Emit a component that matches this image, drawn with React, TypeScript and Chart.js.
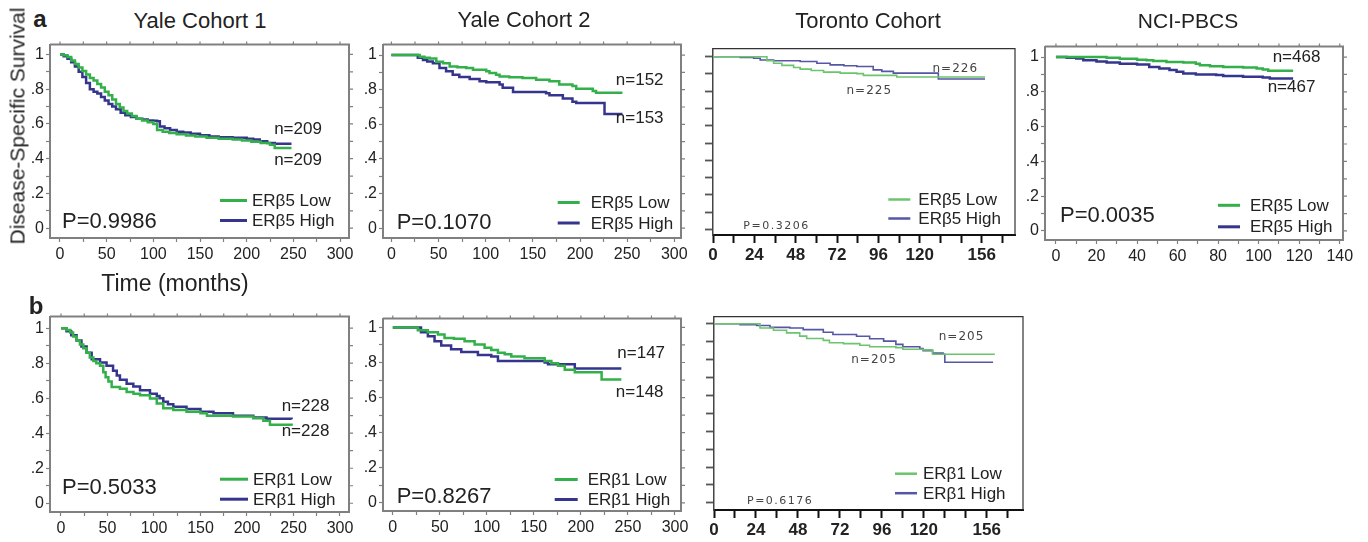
import React, { useEffect, useRef } from 'react';
import { Chart, registerables } from 'chart.js';

Chart.register(...registerables);

const FONT = '"Liberation Sans", Arial, Helvetica, sans-serif';
const GREEN = '#33b04a';
const BLUE = '#35358e';
const GREEN_T = '#6cc46c';
const BLUE_T = '#5656a6';

// ---------- axis ticks ----------
const survTicks = [0, 0.1, 0.2, 0.3, 0.4, 0.5, 0.6, 0.7, 0.8, 0.9, 1];
const survLabelValues = [0, 0.2, 0.4, 0.6, 0.8, 1];
const survLabelTexts = ['0', '.2', '.4', '.6', '.8', '1'];
const yaleXTicks = [0, 25, 50, 75, 100, 125, 150, 175, 200, 225, 250, 275, 300];
const yaleXLabels = [0, 50, 100, 150, 200, 250, 300];
const nciXTicks = [0, 10, 20, 30, 40, 50, 60, 70, 80, 90, 100, 110, 120, 130, 140];
const nciXLabels = [0, 20, 40, 60, 80, 100, 120, 140];
const torXTicks = [0, 12, 24, 36, 48, 60, 72, 84, 96, 108, 120, 132, 144, 156, 168];
const torXLabels = [0, 24, 48, 72, 96, 120, 156];

// ---------- Yale Cohort 1 (ERβ5) ----------
const yale1LowT = [0, 4, 8, 12, 16, 20, 24, 28, 32, 36, 40, 44, 48, 52, 56, 60, 64, 68, 72, 77, 82, 88, 94, 100, 104, 110, 117, 125, 135, 145, 157, 170, 185, 195, 205, 215, 225, 230, 248];
const yale1LowS = [1, 0.995, 0.985, 0.965, 0.945, 0.925, 0.905, 0.885, 0.865, 0.85, 0.83, 0.81, 0.785, 0.765, 0.74, 0.715, 0.695, 0.675, 0.66, 0.645, 0.63, 0.62, 0.61, 0.6, 0.565, 0.555, 0.548, 0.54, 0.533, 0.527, 0.52, 0.515, 0.51, 0.505, 0.497, 0.49, 0.48, 0.462, 0.462];
const yale1HighT = [0, 4, 8, 12, 16, 20, 24, 28, 32, 36, 40, 44, 48, 52, 56, 60, 65, 70, 76, 82, 88, 94, 100, 104, 107, 112, 118, 125, 132, 140, 150, 160, 170, 185, 200, 207, 214, 222, 230, 248];
const yale1HighS = [1, 0.99, 0.975, 0.955, 0.93, 0.9, 0.87, 0.835, 0.8, 0.785, 0.775, 0.755, 0.735, 0.715, 0.7, 0.685, 0.665, 0.65, 0.64, 0.63, 0.625, 0.62, 0.618, 0.615, 0.585, 0.575, 0.565, 0.555, 0.55, 0.543, 0.535, 0.528, 0.523, 0.52, 0.515, 0.51, 0.5, 0.49, 0.486, 0.486];

// ---------- Yale Cohort 2 (ERβ5) ----------
const yale2LowT = [0, 26.5, 30, 35, 40.6, 47.6, 54.7, 61.8, 70, 79.4, 86.5, 100.6, 104, 111, 114.7, 125, 139, 153.5, 167.6, 178, 192, 196, 213.5, 217, 245];
const yale2LowS = [1, 1, 0.99, 0.985, 0.98, 0.962, 0.953, 0.934, 0.93, 0.925, 0.915, 0.906, 0.896, 0.887, 0.877, 0.872, 0.868, 0.858, 0.849, 0.83, 0.821, 0.806, 0.792, 0.783, 0.783];
const yale2HighT = [0, 24.7, 28, 33.5, 38, 44, 51, 58, 65, 72, 83, 93.5, 100.6, 114.7, 118, 129, 153.5, 164, 167.6, 181.8, 192, 196, 224, 226, 245];
const yale2HighS = [1, 1, 0.985, 0.972, 0.963, 0.953, 0.925, 0.906, 0.887, 0.874, 0.862, 0.849, 0.843, 0.83, 0.811, 0.787, 0.787, 0.779, 0.768, 0.749, 0.73, 0.723, 0.723, 0.66, 0.66];

// ---------- Toronto Cohort (ERβ5) ----------
const tor1LowT = [0, 25.5, 31.3, 35.2, 40, 46.8, 50.6, 57, 64.2, 73.8, 83.5, 87.3, 106.7, 157.9];
const tor1LowS = [1, 1, 0.977, 0.962, 0.95, 0.938, 0.928, 0.92, 0.911, 0.905, 0.902, 0.892, 0.883, 0.883];
const tor1HighT = [0, 12, 15.8, 23.6, 27.4, 35.2, 50.6, 60.3, 68, 76, 83.5, 93, 98, 104.7, 130.8, 157.9];
const tor1HighS = [1, 1, 0.996, 0.991, 0.981, 0.977, 0.972, 0.962, 0.953, 0.948, 0.943, 0.924, 0.915, 0.905, 0.871, 0.871];

// ---------- NCI-PBCS (ERβ5) ----------
const nciLowT = [0, 23, 25, 31.5, 40, 44.7, 48, 54.5, 62.8, 69, 71, 76, 82.5, 92.3, 99, 102, 104.7, 117];
const nciLowS = [1, 1, 0.996, 0.99, 0.985, 0.981, 0.977, 0.972, 0.968, 0.962, 0.953, 0.947, 0.943, 0.94, 0.934, 0.928, 0.921, 0.921];
const nciHighT = [0, 5.3, 10, 13.5, 20, 25, 31.5, 40, 46, 51, 56, 59.5, 62.8, 69, 79, 82.5, 92.3, 102, 105.5, 117];
const nciHighS = [1, 0.996, 0.992, 0.981, 0.975, 0.968, 0.962, 0.957, 0.943, 0.934, 0.925, 0.915, 0.906, 0.9, 0.896, 0.891, 0.887, 0.883, 0.877, 0.877];

// ---------- Yale Cohort 1 (ERβ1) ----------
const yale1bLowT = [0, 6, 10, 13, 17, 20.4, 24, 27.6, 31, 34.8, 38, 42, 45.5, 48, 51, 54.5, 63.4, 70.6, 78, 85, 95.7, 103, 110, 120.8, 135, 150, 157, 185, 206.8, 217.6, 224.7, 248];
const yale1bLowS = [1, 0.99, 0.975, 0.953, 0.93, 0.907, 0.885, 0.86, 0.832, 0.813, 0.8, 0.785, 0.748, 0.72, 0.695, 0.664, 0.654, 0.636, 0.625, 0.617, 0.598, 0.57, 0.542, 0.533, 0.523, 0.514, 0.5, 0.495, 0.486, 0.471, 0.449, 0.443];
const yale1bHighT = [0, 6, 11, 16.8, 22, 27.6, 33, 42, 49, 56, 60, 63.4, 70.6, 77.8, 85, 95.7, 103, 106, 110, 115, 120.8, 135, 150, 164, 185, 206.8, 221, 248];
const yale1bHighS = [1, 0.983, 0.96, 0.93, 0.895, 0.86, 0.822, 0.804, 0.785, 0.757, 0.73, 0.706, 0.682, 0.667, 0.645, 0.626, 0.613, 0.6, 0.579, 0.565, 0.551, 0.538, 0.523, 0.514, 0.5, 0.49, 0.482, 0.48];

// ---------- Yale Cohort 2 (ERβ1) ----------
const yale2bLowT = [0, 23, 26.6, 37.3, 48, 55, 65, 76.3, 87, 97.6, 104.7, 111.8, 119, 126, 140, 161.5, 168.6, 175.7, 182.8, 193.5, 222, 243];
const yale2bLowS = [1, 1, 0.983, 0.972, 0.959, 0.94, 0.935, 0.921, 0.903, 0.884, 0.871, 0.856, 0.847, 0.834, 0.824, 0.809, 0.796, 0.781, 0.759, 0.744, 0.703, 0.703];
const yale2bHighT = [0, 26.6, 30, 37.3, 44.4, 51.5, 62, 72.8, 90.5, 104.7, 111.8, 140, 161.5, 165, 193.5, 243];
const yale2bHighS = [1, 1, 0.972, 0.95, 0.921, 0.897, 0.875, 0.86, 0.843, 0.834, 0.809, 0.809, 0.8, 0.79, 0.766, 0.766];

// ---------- Toronto Cohort (ERβ1) ----------
const tor2LowT = [0, 24.4, 26.3, 34, 41.5, 49, 53, 62.5, 66, 74, 83.4, 89, 104, 108, 119.6, 125, 160.6];
const tor2LowS = [1, 1, 0.976, 0.964, 0.949, 0.931, 0.918, 0.907, 0.894, 0.889, 0.88, 0.872, 0.867, 0.858, 0.854, 0.83, 0.83];
const tor2HighT = [0, 14.9, 24.4, 32, 43.4, 51, 62.5, 68, 81.5, 89, 97, 104, 108, 117.7, 119.6, 125, 131, 132, 159.6];
const tor2HighS = [1, 0.995, 0.99, 0.98, 0.976, 0.967, 0.953, 0.94, 0.93, 0.916, 0.903, 0.885, 0.872, 0.861, 0.849, 0.836, 0.83, 0.785, 0.785];

// ---------- layout ----------
const Y_AXIS_W = 45;
const PAD_T = 8;
const PAD_R = 18;
const X_AXIS_H = 36;

type Series = { t: number[]; s: number[]; color: string; width: number };
type TextAt = { text: string; x: number; y: number };
type Panel = {
  key: string;
  style: 'yale' | 'toronto';
  frame: [number, number, number, number];
  xr: [number, number];
  yr: [number, number];
  xTicks: number[];
  xLabels: number[];
  series: Series[];
  nLabels: TextAt[];
  p: TextAt;
  marker: string;
  legend: { x1: number; x2: number; tx: number; yLow: number; yHigh: number };
};

const panels: Panel[] = [
  {
    key: 'a1', style: 'yale', frame: [50, 40.5, 349, 237.5], xr: [-10.7, 309.6], yr: [-0.0565, 1.0565],
    xTicks: yaleXTicks, xLabels: yaleXLabels,
    series: [
      { t: yale1LowT, s: yale1LowS, color: GREEN, width: 2.5 },
      { t: yale1HighT, s: yale1HighS, color: BLUE, width: 2.5 },
    ],
    nLabels: [{ text: 'n=209', x: 298, y: 128.5 }, { text: 'n=209', x: 298, y: 159.5 }],
    p: { text: 'P=0.9986', x: 62, y: 221 }, marker: 'ERβ5',
    legend: { x1: 220, x2: 247, tx: 252, yLow: 200, yHigh: 220 },
  },
  {
    key: 'a2', style: 'yale', frame: [383.3, 41, 681.7, 238.3], xr: [-8.9, 307.1], yr: [-0.0566, 1.0606],
    xTicks: yaleXTicks, xLabels: yaleXLabels,
    series: [
      { t: yale2LowT, s: yale2LowS, color: GREEN, width: 2.5 },
      { t: yale2HighT, s: yale2HighS, color: BLUE, width: 2.5 },
    ],
    nLabels: [{ text: 'n=152', x: 640, y: 80 }, { text: 'n=153', x: 640, y: 118.5 }],
    p: { text: 'P=0.1070', x: 397, y: 223 }, marker: 'ERβ5',
    legend: { x1: 558, x2: 580, tx: 591, yLow: 202.5, yHigh: 223 },
  },
  {
    key: 'a3', style: 'toronto', frame: [712.7, 45, 1015, 235], xr: [0, 175.3], yr: [-0.032, 1.047],
    xTicks: torXTicks, xLabels: torXLabels,
    series: [
      { t: tor1LowT, s: tor1LowS, color: GREEN_T, width: 1.6 },
      { t: tor1HighT, s: tor1HighS, color: BLUE_T, width: 1.6 },
    ],
    nLabels: [{ text: 'n=226', x: 955, y: 68.5 }, { text: 'n=225', x: 869, y: 91 }],
    p: { text: 'P=0.3206', x: 743, y: 226 }, marker: 'ERβ5',
    legend: { x1: 888, x2: 910, tx: 918, yLow: 199.5, yHigh: 218.5 },
  },
  {
    key: 'a4', style: 'yale', frame: [1045, 42.7, 1343.3, 239.3], xr: [-5.4, 141.6], yr: [-0.052, 1.06],
    xTicks: nciXTicks, xLabels: nciXLabels,
    series: [
      { t: nciLowT, s: nciLowS, color: GREEN, width: 2.5 },
      { t: nciHighT, s: nciHighS, color: BLUE, width: 2.5 },
    ],
    nLabels: [{ text: 'n=468', x: 1296.5, y: 57.5 }, { text: 'n=467', x: 1291.5, y: 87.5 }],
    p: { text: 'P=0.0035', x: 1060, y: 216 }, marker: 'ERβ5',
    legend: { x1: 1218, x2: 1240, tx: 1250, yLow: 205, yHigh: 226.5 },
  },
  {
    key: 'b1', style: 'yale', frame: [50, 313.3, 349, 512], xr: [-11.8, 309.7], yr: [-0.05, 1.066],
    xTicks: yaleXTicks, xLabels: yaleXLabels,
    series: [
      { t: yale1bLowT, s: yale1bLowS, color: GREEN, width: 2.5 },
      { t: yale1bHighT, s: yale1bHighS, color: BLUE, width: 2.5 },
    ],
    nLabels: [{ text: 'n=228', x: 305.5, y: 406.5 }, { text: 'n=228', x: 305.5, y: 432 }],
    p: { text: 'P=0.5033', x: 62, y: 488 }, marker: 'ERβ1',
    legend: { x1: 220, x2: 248, tx: 253, yLow: 479.5, yHigh: 499.5 },
  },
  {
    key: 'b2', style: 'yale', frame: [383.3, 315, 681.7, 511], xr: [-10.4, 306.4], yr: [-0.046, 1.05],
    xTicks: yaleXTicks, xLabels: yaleXLabels,
    series: [
      { t: yale2bLowT, s: yale2bLowS, color: GREEN, width: 2.5 },
      { t: yale2bHighT, s: yale2bHighS, color: BLUE, width: 2.5 },
    ],
    nLabels: [{ text: 'n=147', x: 641.5, y: 353.5 }, { text: 'n=148', x: 640, y: 392 }],
    p: { text: 'P=0.8267', x: 397, y: 497 }, marker: 'ERβ1',
    legend: { x1: 555, x2: 578, tx: 588, yLow: 479.5, yHigh: 499.5 },
  },
  {
    key: 'b3', style: 'toronto', frame: [714, 313.3, 1023.3, 510.7], xr: [0, 176.7], yr: [-0.04, 1.04],
    xTicks: torXTicks, xLabels: torXLabels,
    series: [
      { t: tor2LowT, s: tor2LowS, color: GREEN_T, width: 1.6 },
      { t: tor2HighT, s: tor2HighS, color: BLUE_T, width: 1.6 },
    ],
    nLabels: [{ text: 'n=205', x: 961.5, y: 337 }, { text: 'n=205', x: 874, y: 360 }],
    p: { text: 'P=0.6176', x: 747, y: 501 }, marker: 'ERβ1',
    legend: { x1: 895, x2: 917, tx: 923, yLow: 474, yHigh: 493.5 },
  },
];

function survLabel(v: number): string {
  const i = survLabelValues.findIndex((s) => Math.abs(s - v) < 1e-6);
  return i >= 0 ? survLabelTexts[i] : '';
}

function PanelChart({ p }: { p: Panel }) {
  const ref = useRef<HTMLCanvasElement | null>(null);
  const [l, t, r, b] = p.frame;
  const cLeft = l - Y_AXIS_W;
  const cTop = t - PAD_T;
  const cW = Math.round(r - l + Y_AXIS_W + PAD_R);
  const cH = Math.round(b - t + PAD_T + X_AXIS_H);

  useEffect(() => {
    const canvas = ref.current;
    if (!canvas) return;
    const tor = p.style === 'toronto';
    const frameColor = tor ? '#333' : '#808080';

    const annot = {
      id: 'annot-' + p.key,
      beforeDatasetsDraw(chart: any) {
        const { ctx, chartArea: a, scales } = chart;
        ctx.save();
        ctx.strokeStyle = frameColor;
        ctx.lineWidth = tor ? 1.2 : 2;
        ctx.beginPath();
        ctx.moveTo(a.left, a.top);
        ctx.lineTo(a.right, a.top);
        ctx.lineTo(a.right, a.bottom);
        ctx.stroke();
        if (!tor) {
          ctx.lineWidth = 1.2;
          ctx.beginPath();
          for (const v of p.xTicks) {
            const x = scales.x.getPixelForValue(v);
            ctx.moveTo(x, a.top);
            ctx.lineTo(x, a.top - 3);
          }
          for (const v of survTicks) {
            const y = scales.y.getPixelForValue(v);
            ctx.moveTo(a.right, y);
            ctx.lineTo(a.right + 4, y);
          }
          ctx.stroke();
        }
        ctx.restore();
      },
      afterDatasetsDraw(chart: any) {
        const ctx: CanvasRenderingContext2D = chart.ctx;
        const ox = cLeft;
        const oy = cTop;
        ctx.save();
        ctx.textBaseline = 'middle';
        // n labels
        ctx.textAlign = 'center';
        if (tor) {
          ctx.font = '12px "DejaVu Sans", sans-serif';
          (ctx as any).letterSpacing = '1px';
          ctx.fillStyle = '#444';
        } else {
          ctx.font = '17px ' + FONT;
          ctx.fillStyle = '#222';
        }
        for (const n of p.nLabels) ctx.fillText(n.text, n.x - ox, n.y - oy);
        // P value
        ctx.textAlign = 'left';
        if (tor) {
          ctx.font = '11px "DejaVu Sans", sans-serif';
          (ctx as any).letterSpacing = '1.5px';
          ctx.fillText(p.p.text, p.p.x - ox, p.p.y - oy);
          (ctx as any).letterSpacing = '0px';
        } else {
          ctx.font = '22px ' + FONT;
          ctx.fillText(p.p.text, p.p.x - ox, p.p.y - oy);
        }
        // legend
        const lg = p.legend;
        const rows = [
          { y: lg.yLow, color: p.series[0].color, text: p.marker + ' Low' },
          { y: lg.yHigh, color: p.series[1].color, text: p.marker + ' High' },
        ];
        ctx.font = '17px ' + FONT;
        for (const row of rows) {
          ctx.strokeStyle = row.color;
          ctx.lineWidth = tor ? 2.5 : 3;
          ctx.beginPath();
          ctx.moveTo(lg.x1 - ox, row.y - oy);
          ctx.lineTo(lg.x2 - ox, row.y - oy);
          ctx.stroke();
          ctx.fillStyle = '#222';
          ctx.fillText(row.text, lg.tx - ox, row.y - oy + 1);
        }
        ctx.restore();
      },
    };

    const chart = new Chart(canvas, {
      type: 'line',
      data: {
        datasets: p.series.map((s) => ({
          data: s.t.map((x, i) => ({ x, y: s.s[i] })),
          borderColor: s.color,
          borderWidth: s.width,
          stepped: true,
          pointRadius: 0,
          fill: false,
          tension: 0,
        })),
      },
      options: {
        animation: false,
        responsive: false,
        devicePixelRatio: 1,
        events: [],
        layout: { padding: { top: PAD_T, right: PAD_R, left: 0, bottom: 0 } },
        plugins: { legend: { display: false }, tooltip: { enabled: false }, title: { display: false } },
        scales: {
          x: {
            type: 'linear',
            min: p.xr[0],
            max: p.xr[1],
            afterBuildTicks: (s: any) => {
              s.ticks = p.xTicks.map((v) => ({ value: v }));
            },
            afterFit: (s: any) => {
              s.height = X_AXIS_H;
            },
            ticks: {
              autoSkip: false,
              maxRotation: 0,
              padding: tor ? 2 : 3,
              color: '#222',
              font: { family: FONT, size: tor ? 17 : 16, weight: tor ? 'bold' : 'normal' },
              callback: (v: any) => (p.xLabels.includes(Number(v)) ? String(v) : ''),
            },
            grid: {
              drawOnChartArea: false,
              drawTicks: true,
              tickLength: tor ? 8 : 4,
              tickColor: tor ? '#111' : '#808080',
              tickWidth: tor ? 2 : 1.2,
            },
            border: { display: true, color: tor ? '#111' : frameColor, width: 2 },
          },
          y: {
            type: 'linear',
            min: p.yr[0],
            max: p.yr[1],
            afterBuildTicks: (s: any) => {
              s.ticks = survTicks.map((v) => ({ value: v }));
            },
            afterFit: (s: any) => {
              s.width = Y_AXIS_W;
            },
            ticks: {
              autoSkip: false,
              padding: 2,
              color: '#222',
              font: { family: FONT, size: 16 },
              callback: (v: any) => (tor ? '' : survLabel(Number(v))),
            },
            grid: {
              drawOnChartArea: false,
              drawTicks: true,
              tickLength: tor ? 8 : 4,
              tickColor: tor ? '#555' : '#808080',
              tickWidth: tor ? 1.8 : 1.2,
            },
            border: { display: true, color: tor ? '#444' : frameColor, width: tor ? 1.5 : 2 },
          },
        },
      } as any,
      plugins: [annot],
    });
    return () => chart.destroy();
  }, [p]);

  return (
    <canvas
      ref={ref}
      width={cW}
      height={cH}
      style={{ position: 'absolute', left: cLeft, top: cTop, width: cW, height: cH }}
    />
  );
}

const headings: { text: string; x: number; y: number; size: number; bold?: boolean; rotate?: boolean }[] = [
  { text: 'a', x: 40, y: 19, size: 24, bold: true },
  { text: 'b', x: 36, y: 306, size: 24, bold: true },
  { text: 'Yale Cohort 1', x: 200, y: 21, size: 22 },
  { text: 'Yale Cohort 2', x: 524, y: 20, size: 22 },
  { text: 'Toronto Cohort', x: 868, y: 21, size: 22 },
  { text: 'NCI-PBCS', x: 1188, y: 19.5, size: 21 },
  { text: 'Time (months)', x: 175, y: 283, size: 23 },
  { text: 'Disease-Specific Survival', x: 17, y: 126, size: 21, rotate: true },
];

export default function App() {
  return (
    <div
      style={{
        position: 'fixed',
        left: 0,
        top: 0,
        width: 1368,
        height: 542,
        background: '#ffffff',
        overflow: 'hidden',
      }}
    >
      {panels.map((p) => (
        <PanelChart key={p.key} p={p} />
      ))}
      {headings.map((h) => (
        <div
          key={h.text}
          style={{
            position: 'absolute',
            left: h.x,
            top: h.y,
            transform: 'translate(-50%, -50%)' + (h.rotate ? ' rotate(-90deg)' : ''),
            fontFamily: FONT,
            fontSize: h.size,
            fontWeight: h.bold ? 'bold' : 'normal',
            color: '#222',
            whiteSpace: 'nowrap',
            lineHeight: 1,
          }}
        >
          {h.text}
        </div>
      ))}
    </div>
  );
}
